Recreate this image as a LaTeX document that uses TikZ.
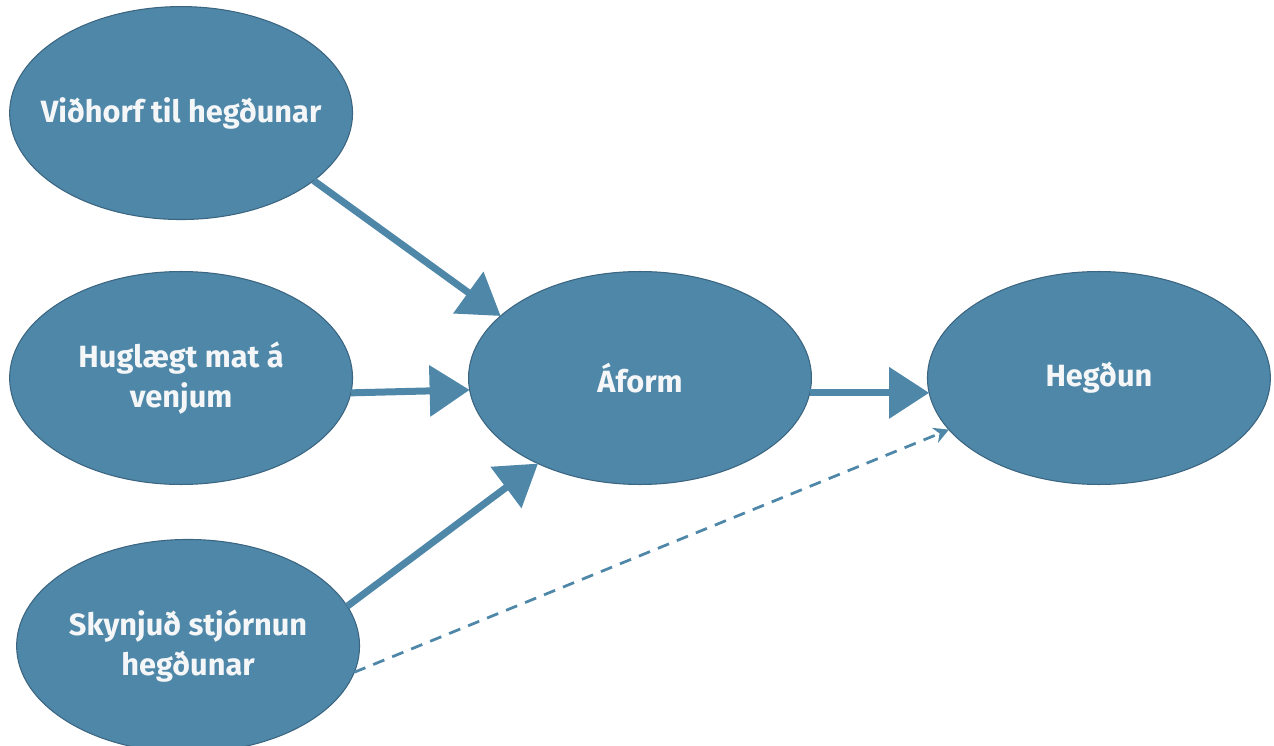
\documentclass[tikz,border=0pt]{standalone}
\usepackage{fontspec}
\setmainfont{Fira Sans}
\usepackage{tikz}
\usetikzlibrary{arrows.meta,shapes.geometric,positioning}

\definecolor{boxblue}{HTML}{4E87A8}
\definecolor{rimblue}{HTML}{3B6580}
\definecolor{txtwhite}{HTML}{F4F6F8}

\begin{document}
\begin{tikzpicture}[x=0.02cm,y=-0.02cm,
    construct/.style={ellipse,draw=rimblue,line width=0.6pt,fill=boxblue,
      minimum width=6.86cm,minimum height=4.26cm,inner xsep=-1cm,inner ysep=0pt,outer sep=0pt,
      align=center,text=txtwhite,font=\fontsize{17.5}{23}\selectfont\bfseries},
    effect/.style={-{Triangle[length=0.8cm,width=1cm]},draw=boxblue,line width=0.14cm},
    direct/.style={-{Stealth[length=0.3cm,width=0.32cm]},draw=boxblue,line width=0.055cm,
      dash pattern=on 0.24cm off 0.17cm}]
	  \useasboundingbox (0,0) rectangle (1274,746);
	  \node[construct] (afo) at (640,378)                          {Áform};
	  \node[construct] (heg) [right of=afo,node distance=9.18cm]   {Hegðun};
	  \node[construct] (hug) [left of=afo,node distance=9.18cm]    {Huglægt mat á\\venjum};
	  \node[construct] (vid) [above of=hug,node distance=5.3cm]    {Viðhorf til hegðunar};
	  \node[construct] (sky) [below of=hug,node distance=5.36cm,xshift=0.14cm] {Skynjuð stjórnun\\hegðunar};
	  \path
(vid.-27) edge[effect] (afo.156)
(hug.-5)  edge[effect] (afo.184)
(sky.14)  edge[effect] (afo.220)
(afo.-5)  edge[effect] (heg.185)
(sky.-9)  edge[direct] (heg.199)
;
	\end{tikzpicture}
\end{document}
